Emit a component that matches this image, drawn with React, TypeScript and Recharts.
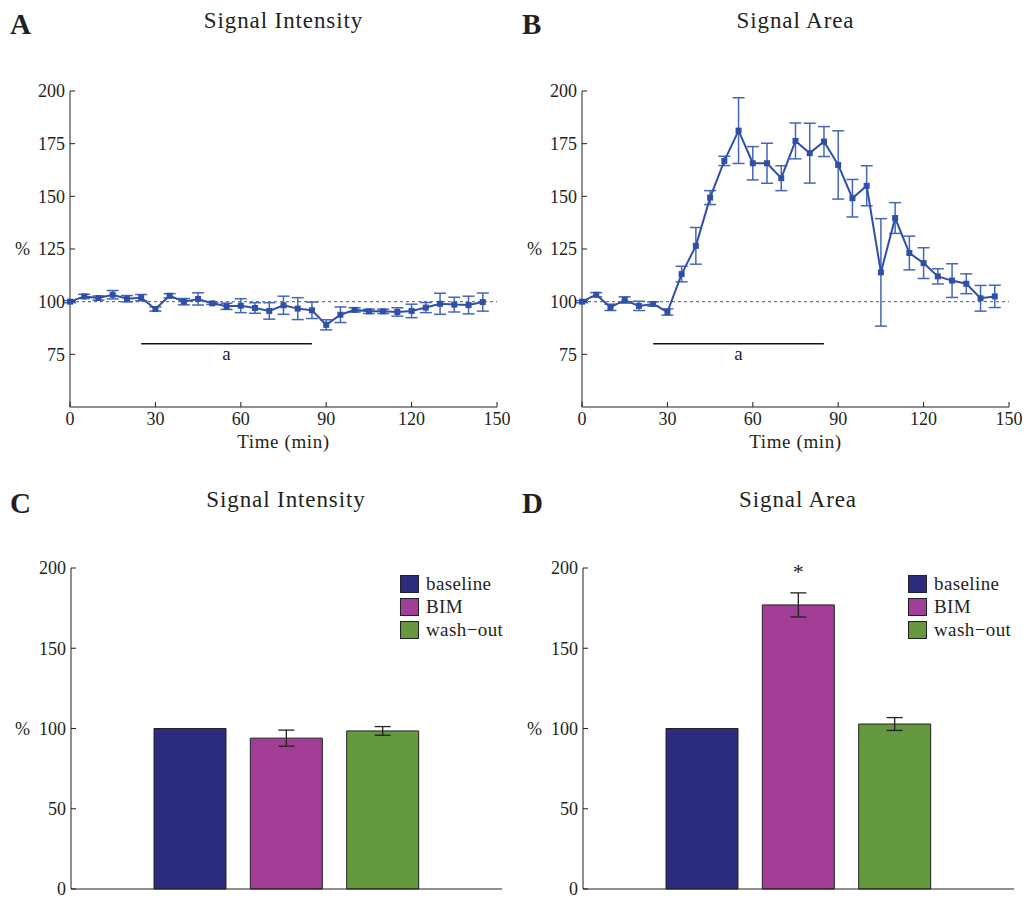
import {
  LineChart,
  Line,
  BarChart,
  Bar,
  Cell,
  XAxis,
  YAxis,
  ErrorBar,
  ReferenceLine,
  LabelList,
  Legend,
} from "recharts";

// time points (min)
const times = [0, 5, 10, 15, 20, 25, 30, 35, 40, 45, 50, 55, 60, 65, 70, 75, 80, 85, 90, 95, 100, 105, 110, 115, 120, 125, 130, 135, 140, 145];

const intensityMean = [100, 102.5, 101.7, 103.3, 101.4, 101.9, 96.5, 102.8, 100, 101.3, 99.2, 97.8, 98.1, 97, 95.6, 98.3, 96.7, 95.9, 89, 93.8, 96.1, 95.4, 95.4, 95.1, 95.6, 97.2, 99, 98.6, 98.4, 99.8];
const intensitySem = [0.5, 1, 1, 2, 1.5, 1.5, 1, 1, 1.5, 2.9, 0.5, 1.5, 3.3, 2.5, 3.9, 4.3, 5.2, 3.9, 2.4, 3.7, 1, 1, 1, 2, 3.2, 2.4, 5, 3.5, 4.2, 4.3];

const areaMean = [100, 103.3, 97.3, 100.8, 98, 98.9, 95.1, 113.1, 126.5, 149.4, 166.8, 181.2, 165.7, 165.7, 158.6, 176.3, 170.5, 176, 164.9, 149.1, 155, 113.9, 139.7, 123.1, 118.3, 112, 110, 108.5, 101.6, 102.5];
const areaSem = [0.5, 1, 1.5, 1.5, 2.2, 1, 1.5, 3.7, 8.7, 3.3, 2.2, 15.6, 7.9, 9.5, 5.9, 8.5, 14.2, 7.1, 16.2, 8.9, 9.5, 25.5, 7.3, 8, 7.3, 3.6, 8, 4.7, 6.1, 5.3];

const timeTicks = [0, 30, 60, 90, 120, 150];
const pctTicks = [75, 100, 125, 150, 175, 200];

const conditions = ["baseline", "BIM", "wash\u2212out"];
const conditionColors = ["#2b2c7e", "#a33e96", "#64993f"];
const intensityBars = [100, 94, 98.5];
const intensityBarSem = [0, 5, 2.7];
const areaBars = [100, 177, 102.8];
const areaBarSem = [0, 7.5, 4];
const areaSignificance = ["", "*", ""];
const barTicks = [0, 50, 100, 150, 200];

const FONT = "'Liberation Serif', 'Times New Roman', serif";
const INK = "#231f20";
const BLUE = "#3050a8";
const BLUE_ERR = "#4566b8";

const tickStyle = { fontSize: 18, fill: INK, fontFamily: FONT };

const toRows = (mean: number[], sem: number[]) =>
  times.map((t, i) => ({ t, mean: mean[i], sem: sem[i] }));

const toBars = (vals: number[], sem: number[], sig?: string[]) =>
  conditions.map((name, i) => ({ name, value: vals[i], sem: sem[i], sig: sig ? sig[i] : "" }));

const SquareDot = (props: any) => {
  const { cx, cy, index } = props;
  if (cx == null || cy == null) return null;
  return <rect key={`dot-${index}`} x={cx - 3} y={cy - 3} width={6} height={6} fill={BLUE} />;
};

const TimeCourse = ({ rows }: { rows: { t: number; mean: number; sem: number }[] }) => (
  <LineChart width={512} height={460} data={rows} margin={{ top: 91, right: 15, left: 0, bottom: 3 }}>
    <XAxis
      dataKey="t"
      type="number"
      domain={[0, 150]}
      ticks={timeTicks}
      interval={0}
      tick={tickStyle}
      tickSize={-5}
      tickMargin={10}
      stroke={INK}
      height={50}
      label={{ value: "Time (min)", position: "insideBottom", offset: 9, fontSize: 19, fill: INK, fontFamily: FONT, letterSpacing: 0.6 }}
    />
    <YAxis
      type="number"
      domain={[50, 200]}
      ticks={pctTicks}
      interval={0}
      tick={tickStyle}
      tickSize={-5}
      tickMargin={10}
      stroke={INK}
      width={70}
      label={{ value: "%", position: "insideLeft", offset: 15, fontSize: 18, fill: INK, fontFamily: FONT }}
    />
    <ReferenceLine y={100} stroke="#777" strokeDasharray="3 3" strokeWidth={1.3} />
    <ReferenceLine
      segment={[{ x: 25, y: 80 }, { x: 85, y: 80 }]}
      stroke="#111"
      strokeWidth={1.5}
      label={{ value: "a", position: "bottom", offset: 3, fontSize: 19, fill: INK, fontFamily: FONT }}
    />
    <Line
      dataKey="mean"
      stroke={BLUE}
      strokeWidth={2}
      dot={SquareDot}
      activeDot={false}
      isAnimationActive={false}
    >
      <ErrorBar dataKey="sem" direction="y" width={6} stroke={BLUE_ERR} strokeWidth={1.5} />
    </Line>
  </LineChart>
);

const ConditionLegend = () => (
  <div style={{ fontFamily: FONT, fontSize: 19, letterSpacing: 0.4, color: INK }}>
    {conditions.map((c, i) => (
      <div key={c} style={{ display: "flex", alignItems: "center", height: 23 }}>
        <span
          style={{
            width: 17,
            height: 16,
            background: conditionColors[i],
            border: "1px solid #222",
            marginRight: 7,
            display: "inline-block",
          }}
        />
        {c}
      </div>
    ))}
  </div>
);

const Summary = ({ rows, legendLeft }: { rows: ReturnType<typeof toBars>; legendLeft: number }) => (
  <BarChart width={512} height={428} data={rows} margin={{ top: 98, right: 10, left: 0, bottom: 8 }}>
    <XAxis dataKey="name" tick={false} tickLine={false} height={1} stroke={INK} padding={{ left: 71, right: 71 }} />
    <YAxis
      type="number"
      domain={[0, 200]}
      ticks={barTicks}
      interval={0}
      tick={tickStyle}
      tickSize={-5}
      tickMargin={10}
      stroke={INK}
      width={71}
      label={{ value: "%", position: "insideLeft", offset: 15, fontSize: 18, fill: INK, fontFamily: FONT }}
    />
    <Legend
      layout="vertical"
      align="center"
      verticalAlign="middle"
      content={ConditionLegend}
      wrapperStyle={{ top: 102, left: legendLeft, width: 130, height: 70 }}
    />
    <Bar dataKey="value" barSize={72} stroke="#222" strokeWidth={1} isAnimationActive={false}>
      {rows.map((r, i) => (
        <Cell key={r.name} fill={conditionColors[i]} />
      ))}
      <ErrorBar dataKey="sem" direction="y" width={8} stroke="#222" strokeWidth={1.3} />
      <LabelList dataKey="sig" position="top" offset={26} style={{ fontSize: 22, fill: INK, fontFamily: FONT }} />
    </Bar>
  </BarChart>
);

const panelLetter = (letter: string, left: number, top: number) => (
  <div
    style={{
      position: "absolute",
      left,
      top,
      fontFamily: FONT,
      fontWeight: 700,
      fontSize: 29,
      lineHeight: 1,
      color: INK,
    }}
  >
    {letter}
  </div>
);

const panelTitle = (title: string, left: number, width: number, top: number) => (
  <div
    style={{
      position: "absolute",
      left,
      width,
      top,
      textAlign: "center",
      fontFamily: FONT,
      fontSize: 23,
      letterSpacing: 0.9,
      lineHeight: 1,
      color: INK,
    }}
  >
    {title}
  </div>
);

export default function App() {
  return (
    <div style={{ position: "absolute", left: 0, top: 0, width: 1024, height: 898, background: "#fff", overflow: "hidden" }}>
      <div style={{ position: "absolute", left: 0, top: 0 }}>
        <TimeCourse rows={toRows(intensityMean, intensitySem)} />
      </div>
      <div style={{ position: "absolute", left: 512, top: 0 }}>
        <TimeCourse rows={toRows(areaMean, areaSem)} />
      </div>
      <div style={{ position: "absolute", left: 0, top: 470 }}>
        <Summary rows={toBars(intensityBars, intensityBarSem)} legendLeft={400} />
      </div>
      <div style={{ position: "absolute", left: 512, top: 470 }}>
        <Summary rows={toBars(areaBars, areaBarSem, areaSignificance)} legendLeft={396} />
      </div>

      {panelLetter("A", 10, 10)}
      {panelLetter("B", 522, 10)}
      {panelLetter("C", 10, 489)}
      {panelLetter("D", 522, 489)}

      {panelTitle("Signal Intensity", 70, 427, 9)}
      {panelTitle("Signal Area", 582, 427, 9)}
      {panelTitle("Signal Intensity", 70, 432, 488)}
      {panelTitle("Signal Area", 583, 430, 488)}
    </div>
  );
}
